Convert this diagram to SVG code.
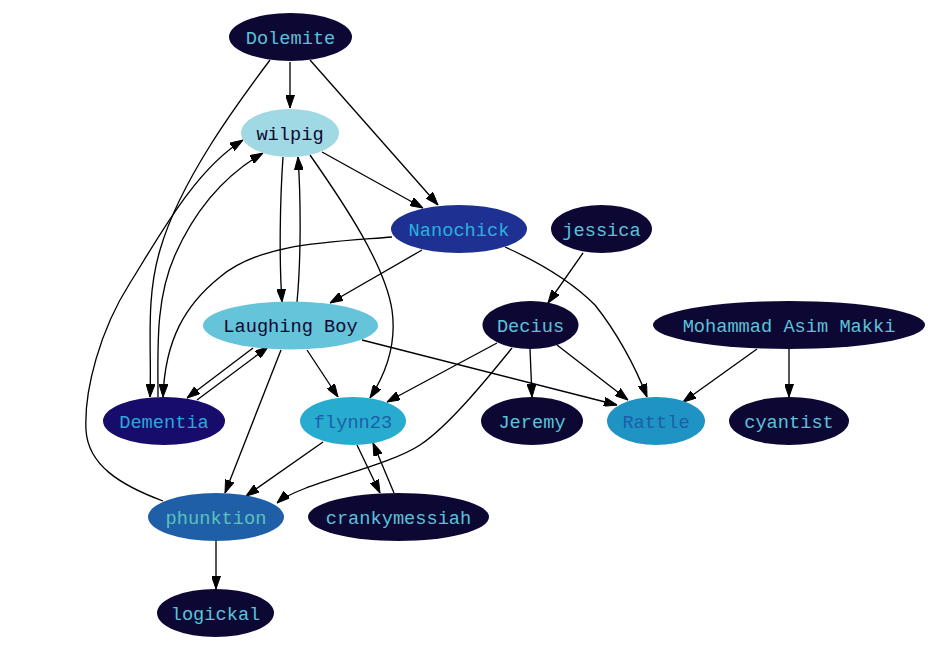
<svg xmlns="http://www.w3.org/2000/svg" width="928" height="648" viewBox="0 0 928 648">
<style>
text{font-family:"Liberation Mono","Courier New",monospace;font-size:18.67px;text-anchor:middle}
.e path{fill:none;stroke:#000;stroke-width:1.33;marker-end:url(#ah)}
.dk ellipse{fill:#0d0833}
.dk text{fill:#5ac2da}
</style>
<defs>
<marker id="ah" markerUnits="userSpaceOnUse" viewBox="0 0 13 9" refX="13" refY="4.5" markerWidth="13" markerHeight="9" orient="auto">
<path d="M0,0 L13,4.5 L0,9 z" fill="#000" stroke="#000" stroke-width="1"/>
</marker>
</defs>
<rect width="928" height="648" fill="#fff"/>
<g class="e" id="edges">
<path d="M290,62 L290,108"/>
<path d="M310,60 L438,205"/>
<path d="M270,60 C240,100 180,180 160,250 C145,300 152,350 150,397"/>
<path d="M322,152 L423,208"/>
<path d="M283,157 C280,200 279,260 282,302"/>
<path d="M297,302 C301,260 301,200 298,157"/>
<path d="M310,155 C345,205 385,265 392,310 C397,345 385,375 370,398"/>
<path d="M158,397 C158,350 155,300 175,255 C195,210 225,175 263,153"/>
<path d="M163,501 C120,485 88,465 86,430 C84,390 100,330 130,283 C160,235 195,170 243,140"/>
<path d="M392,237 C330,242 260,243 220,277 C185,305 165,340 163,397"/>
<path d="M422,250 L330,303"/>
<path d="M505,247 C545,265 575,285 595,305 C615,330 635,365 647,397"/>
<path d="M583,253 L548,303"/>
<path d="M253,348 L187,398"/>
<path d="M197,400 L268,347"/>
<path d="M307,350 L338,397"/>
<path d="M281,350 L225,493"/>
<path d="M362,340 L617,405"/>
<path d="M497,343 L387,402"/>
<path d="M512,348 C490,375 450,425 420,445 C385,468 300,483 277,503"/>
<path d="M530,349 L532,397"/>
<path d="M557,345 L628,400"/>
<path d="M757,349 L683,402"/>
<path d="M789,349 L789,397"/>
<path d="M323,442 L246,496"/>
<path d="M357,445 L380,493"/>
<path d="M394,493 L373,443"/>
<path d="M216,541 L216,589"/>
</g>
<g id="Dolemite" class="dk"><ellipse cx="290.5" cy="37" rx="61.5" ry="24"/><text x="290.5" y="43.5">Dolemite</text></g>
<g id="wilpig"><ellipse cx="290" cy="133" rx="49" ry="24" fill="#a0d9e4"/><text x="290" y="139.5" fill="#0d0833">wilpig</text></g>
<g id="Nanochick"><ellipse cx="459" cy="229" rx="68" ry="24" fill="#1e3193"/><text x="459" y="235.5" fill="#2ab0dc">Nanochick</text></g>
<g id="jessica" class="dk"><ellipse cx="601.5" cy="229" rx="50.5" ry="24"/><text x="601.5" y="235.5">jessica</text></g>
<g id="LaughingBoy"><ellipse cx="290.5" cy="325.5" rx="87.5" ry="24" fill="#66c4da"/><text x="290.5" y="332" fill="#0d0833">Laughing Boy</text></g>
<g id="Decius" class="dk"><ellipse cx="530.5" cy="325" rx="48" ry="24"/><text x="530.5" y="331.5">Decius</text></g>
<g id="MohammadAsimMakki" class="dk"><ellipse cx="789" cy="325" rx="136" ry="24"/><text x="789" y="331.5">Mohammad Asim Makki</text></g>
<g id="Dementia"><ellipse cx="164" cy="421" rx="61" ry="24" fill="#170b6b"/><text x="164" y="427.5" fill="#2aa8d8">Dementia</text></g>
<g id="flynn23"><ellipse cx="353" cy="421" rx="53" ry="24" fill="#27acd0"/><text x="353" y="427.5" fill="#1e5ea8">flynn23</text></g>
<g id="Jeremy" class="dk"><ellipse cx="532" cy="421" rx="51" ry="24"/><text x="532" y="427.5">Jeremy</text></g>
<g id="Rattle"><ellipse cx="656" cy="421" rx="49" ry="24" fill="#1f94c4"/><text x="656" y="427.5" fill="#1e5ea8">Rattle</text></g>
<g id="cyantist" class="dk"><ellipse cx="789" cy="421" rx="60" ry="24"/><text x="789" y="427.5">cyantist</text></g>
<g id="phunktion"><ellipse cx="216" cy="517" rx="68" ry="24" fill="#1e5fa8"/><text x="216" y="523.5" fill="#5cc2b8">phunktion</text></g>
<g id="crankymessiah" class="dk"><ellipse cx="398.5" cy="517" rx="90.5" ry="24"/><text x="398.5" y="523.5">crankymessiah</text></g>
<g id="logickal" class="dk"><ellipse cx="215.5" cy="613" rx="58.5" ry="24"/><text x="215.5" y="619.5">logickal</text></g>
</svg>
